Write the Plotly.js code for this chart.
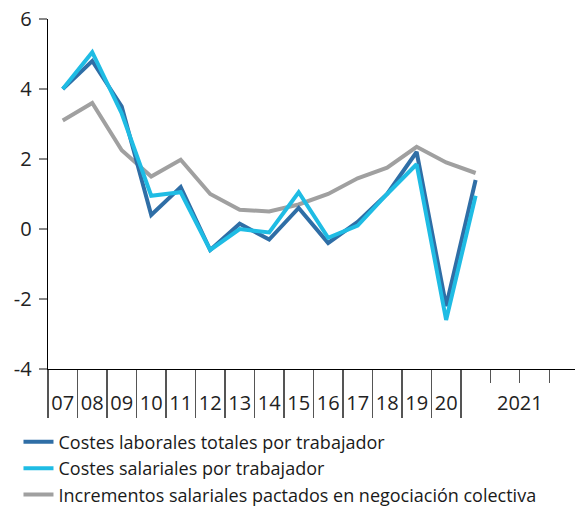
<!DOCTYPE html>
<html>
<head>
<meta charset="utf-8">
<script src="https://cdn.plot.ly/plotly-3.0.1.min.js"></script>
<style>html,body{margin:0;padding:0;background:#fff}#chart{width:575px;height:506px}</style>
</head>
<body>
<div id="chart"></div>
<script>
// Periods: annual 2007-2020, then 2021 first quarter
const periods = ['2007','2008','2009','2010','2011','2012','2013','2014','2015','2016','2017','2018','2019','2020','2021T1'];
const costesLaborales = [4.0, 4.8, 3.5, 0.4, 1.2, -0.6, 0.15, -0.3, 0.6, -0.4, 0.2, 1.0, 2.2, -2.2, 1.4];
const costesSalariales = [4.0, 5.05, 3.3, 0.95, 1.05, -0.6, 0.0, -0.1, 1.05, -0.25, 0.1, 1.0, 1.85, -2.6, 0.95];
const incrementosPactados = [3.1, 3.6, 2.25, 1.5, 1.98, 1.0, 0.55, 0.5, 0.7, 1.0, 1.45, 1.75, 2.35, 1.9, 1.6];

// Axis labels: two-digit years, then 2021 spanning its four quarters
const yearLabels = ['07','08','09','10','11','12','13','14','15','16','17','18','19','20'];
const label2021 = '2021';
const quarters2021 = 4;
const yTickVals = [-4, -2, 0, 2, 4, 6];
const yTickText = ['-4', '-2', '0', '2', '4', '6'];

const names = [
  'Costes laborales totales por trabajador',
  'Costes salariales por trabajador',
  'Incrementos salariales pactados en negociación colectiva'
];
const colors = ['#2F6EA6', '#1FBCE4', '#A0A0A0'];

const xs = periods.map((_, i) => i);
const nYears = yearLabels.length;
const boundaryTicks = [];
for (let i = 0; i <= nYears; i++) boundaryTicks.push(i - 0.5);
const quarterTicks = [];
for (let q = 1; q < quarters2021; q++) quarterTicks.push(nYears - 0.5 + q);
const labelVals = yearLabels.map((_, i) => i).concat([nYears - 0.5 + quarters2021 / 2]);
const labelText = yearLabels.concat([label2021]);

const series = [costesLaborales, costesSalariales, incrementosPactados];
const traces = series.map((ys, k) => ({
  x: xs, y: ys, name: names[k], type: 'scatter', mode: 'lines',
  line: {color: colors[k], width: 4}, xaxis: 'x', yaxis: 'y', legendrank: k + 1
}));
const drawOrder = [traces[2], traces[0], traces[1]];

const xRange = [-0.5, 17.37];
const font = '"Open Sans", Lato, sans-serif';

const layout = {
  width: 575, height: 506,
  margin: {l: 48, r: 0, t: 19, b: 137, autoexpand: false},
  paper_bgcolor: '#fff', plot_bgcolor: '#fff',
  font: {family: font, color: '#222'},
  showlegend: true,
  legend: {
    x: -0.056, y: -0.156, xanchor: 'left', yanchor: 'top',
    orientation: 'v', font: {size: 18, color: '#1a1a1a', family: font},
    bgcolor: 'rgba(0,0,0,0)', tracegroupgap: 0, itemwidth: 30
  },
  xaxis: {
    range: xRange, showline: true, linecolor: '#000', linewidth: 1.3,
    tickmode: 'array', tickvals: boundaryTicks, ticks: 'outside', ticklen: 48,
    tickcolor: '#555', tickwidth: 1.3, showticklabels: false,
    showgrid: false, zeroline: false, fixedrange: true
  },
  xaxis2: {
    overlaying: 'x', matches: 'x', range: xRange, showline: false,
    tickmode: 'array', tickvals: quarterTicks, ticks: 'outside', ticklen: 13,
    tickcolor: '#555', tickwidth: 1.3, showticklabels: false,
    showgrid: false, zeroline: false
  },
  xaxis3: {
    overlaying: 'x', matches: 'x', range: xRange, showline: false,
    tickmode: 'array', tickvals: labelVals, ticktext: labelText,
    ticks: '', ticklabelstandoff: 20,
    tickfont: {size: 20, color: '#222', family: font},
    showgrid: false, zeroline: false
  },
  yaxis: {
    range: [-4, 6], tickmode: 'array', tickvals: yTickVals, ticktext: yTickText,
    showline: true, linecolor: '#000', linewidth: 1.3,
    ticks: 'outside', ticklen: 8, tickcolor: '#888', tickwidth: 1.3,
    ticklabelstandoff: 3,
    tickfont: {size: 20, color: '#222', family: font},
    showgrid: false, zeroline: false
  }
};

const helpers = ['x2', 'x3'].map(ax => ({
  x: [xRange[0]], y: [null], xaxis: ax, yaxis: 'y', showlegend: false,
  hoverinfo: 'skip', mode: 'lines', type: 'scatter'
}));

Plotly.newPlot('chart', drawOrder.concat(helpers), layout, {displayModeBar: false, staticPlot: true});
</script>
</body>
</html>
